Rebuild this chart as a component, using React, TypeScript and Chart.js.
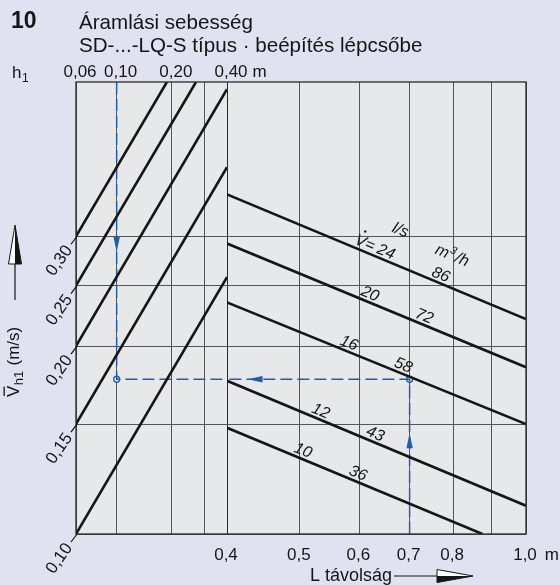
import React, { useEffect, useRef } from 'react';
import { Chart, registerables } from 'chart.js';

Chart.register(...registerables);

// ---- axis ticks / labels ----
const hGrid = [0.06, 0.1, 0.2, 0.3, 0.4];
const hLabelValues = [0.06, 0.1, 0.2, 0.4];
const hLabels = ['0,06', '0,10', '0,20', '0,40'];
const lGrid = [0.4, 0.5, 0.6, 0.7, 0.8, 0.9, 1.0];
const lLabelValues = [0.4, 0.5, 0.6, 0.7, 0.8, 1.0];
const lLabels = ['0,4', '0,5', '0,6', '0,7', '0,8', '1,0'];
const vGrid = [0.1, 0.15, 0.2, 0.25, 0.3];
const vLabels = ['0,10', '0,15', '0,20', '0,25', '0,30'];
const hMin = 0.06;
const hMax = 0.4;
const lMin = 0.4;
const lMax = 1.0;
const vMin = 0.1;
const vMax = 0.53;

// ---- left section: h1 lines ----
const leftStartH = 0.06;
const leftStartV = [0.3, 0.25, 0.2, 0.15, 0.1];
const leftEndH = [0.188, 0.271, 0.4, 0.4, 0.4];
const leftEndV = [0.53, 0.53, 0.516, 0.387, 0.258];

// ---- right section: flow lines ----
const flowLs = [24, 20, 16, 12, 10];
const flowM3h = [86, 72, 58, 43, 36];
const rightStartL = 0.4;
const rightStartV = [0.35, 0.292, 0.235, 0.176, 0.148];
const rightEndL = [1.0, 1.0, 1.0, 1.0, 0.875];
const rightEndV = [0.221, 0.185, 0.15, 0.111, 0.1];
const lsLabelL = [0.645, 0.614, 0.576, 0.528, 0.5];
const m3hLabelL = [0.763, 0.725, 0.68, 0.624, 0.592];

// ---- example reading (blue) ----
const readH = 0.1;
const readL = 0.7;
const readV = 0.177;
const arrowDownV = 0.283;
const arrowLeftL = 0.426;
const arrowUpV = 0.145;

const BLUE = '#1f5fb0';
const INK = '#151515';
const FONT = '"Liberation Sans", Arial, Helvetica, sans-serif';
const PAGE_BG = '#e0e2f2';
const PLOT_BG = '#e7e8ea';

function arrowHead(ctx: CanvasRenderingContext2D, x: number, y: number, ang: number, len: number, half: number) {
  ctx.save();
  ctx.translate(x, y);
  ctx.rotate(ang);
  ctx.beginPath();
  ctx.moveTo(0, 0);
  ctx.lineTo(-len, -half);
  ctx.lineTo(-len, half);
  ctx.closePath();
  ctx.fill();
  ctx.restore();
}

function halfArrow(ctx: CanvasRenderingContext2D, x: number, y: number, ang: number, len: number, half: number) {
  ctx.save();
  ctx.translate(x, y);
  ctx.rotate(ang);
  ctx.fillStyle = '#ffffff';
  ctx.beginPath();
  ctx.moveTo(0, 0);
  ctx.lineTo(-len, -half);
  ctx.lineTo(-len, half);
  ctx.closePath();
  ctx.fill();
  ctx.fillStyle = INK;
  ctx.beginPath();
  ctx.moveTo(0, 0);
  ctx.lineTo(-len, 0);
  ctx.lineTo(-len, half);
  ctx.closePath();
  ctx.fill();
  ctx.strokeStyle = INK;
  ctx.lineWidth = 1;
  ctx.beginPath();
  ctx.moveTo(0, 0);
  ctx.lineTo(-len, -half);
  ctx.lineTo(-len, half);
  ctx.closePath();
  ctx.stroke();
  ctx.restore();
}

const decorPlugin = {
  id: 'decor',
  beforeDraw(chart: any) {
    const { ctx, chartArea: a } = chart;
    ctx.save();
    ctx.fillStyle = PAGE_BG;
    ctx.fillRect(0, 0, chart.width, chart.height);
    ctx.fillStyle = PLOT_BG;
    ctx.fillRect(a.left, a.top, a.right - a.left, a.bottom - a.top);
    ctx.restore();
  },
  afterDraw(chart: any) {
    const { ctx, chartArea: a } = chart;
    const xL = chart.scales.xL;
    const xR = chart.scales.xR;
    const y = chart.scales.y;
    ctx.save();

    // frame
    ctx.strokeStyle = '#2a2a2a';
    ctx.lineWidth = 1.3;
    ctx.strokeRect(a.left, a.top, a.right - a.left, a.bottom - a.top);

    // blue arrows
    ctx.fillStyle = BLUE;
    arrowHead(ctx, xL.getPixelForValue(readH), y.getPixelForValue(arrowDownV), Math.PI / 2, 15, 3.2);
    arrowHead(ctx, xR.getPixelForValue(arrowLeftL), y.getPixelForValue(readV), Math.PI, 15, 3.2);
    arrowHead(ctx, xR.getPixelForValue(readL), y.getPixelForValue(arrowUpV), -Math.PI / 2, 15, 3.2);

    ctx.fillStyle = INK;
    ctx.strokeStyle = INK;

    // title
    ctx.textAlign = 'left';
    ctx.textBaseline = 'alphabetic';
    ctx.font = `bold 23px ${FONT}`;
    ctx.fillText('10', 11, 28);
    ctx.font = `20.6px ${FONT}`;
    ctx.fillText('Áramlási sebesség', 79, 29);
    ctx.fillText('SD-...-LQ-S típus · beépítés lépcsőbe', 79, 52);

    // h1
    ctx.font = `17px ${FONT}`;
    ctx.fillText('h', 12, 78);
    const whh = ctx.measureText('h').width;
    ctx.font = `12px ${FONT}`;
    ctx.fillText('1', 12 + whh + 0.5, 82);

    // top labels
    ctx.font = `17px ${FONT}`;
    ctx.textAlign = 'center';
    hLabelValues.forEach((v, i) => {
      const px = xL.getPixelForValue(v) + 4;
      ctx.fillText(hLabels[i], px, 77);
      if (i === hLabelValues.length - 1) {
        const w = ctx.measureText(hLabels[i]).width;
        ctx.textAlign = 'left';
        ctx.fillText('m', px + w / 2 + 5, 77);
        ctx.textAlign = 'center';
      }
    });

    // bottom labels
    lLabelValues.forEach((v, i) => {
      const px = xR.getPixelForValue(v) - 1;
      ctx.fillText(lLabels[i], px, 560);
      if (i === lLabelValues.length - 1) {
        const w = ctx.measureText(lLabels[i]).width;
        ctx.textAlign = 'left';
        ctx.fillText('m', px + w / 2 + 8, 560);
        ctx.textAlign = 'center';
      }
    });

    // x title + arrow
    ctx.font = `18px ${FONT}`;
    ctx.textAlign = 'left';
    ctx.fillText('L távolság', 310, 581);
    ctx.lineWidth = 1.2;
    ctx.beginPath();
    ctx.moveTo(394, 576);
    ctx.lineTo(440, 576);
    ctx.stroke();
    halfArrow(ctx, 473, 576, 0, 36, 6.5);

    // y labels (rotated)
    ctx.font = `17px ${FONT}`;
    vGrid.forEach((v, i) => {
      const yp = y.getPixelForValue(v);
      const ax = a.left;
      ctx.lineWidth = 1.2;
      ctx.beginPath();
      ctx.moveTo(ax + 1, yp);
      ctx.lineTo(ax - 5, yp + 8);
      ctx.stroke();
      ctx.save();
      ctx.translate(ax - 7, yp + 11);
      ctx.rotate((-55 * Math.PI) / 180);
      ctx.textAlign = 'right';
      ctx.textBaseline = 'middle';
      ctx.fillText(vLabels[i], 0, 0);
      ctx.restore();
    });

    // y title + arrow
    ctx.save();
    ctx.translate(19, 397);
    ctx.rotate(-Math.PI / 2);
    ctx.textAlign = 'left';
    ctx.textBaseline = 'alphabetic';
    ctx.font = `17px ${FONT}`;
    ctx.fillText('V', 0, 0);
    const wV = ctx.measureText('V').width;
    ctx.fillRect(1, -15.5, wV - 2, 1.3);
    ctx.font = `13px ${FONT}`;
    ctx.fillText('h1', wV + 0.5, 4);
    const wh1 = ctx.measureText('h1').width;
    ctx.font = `17px ${FONT}`;
    ctx.fillText(' (m/s)', wV + wh1 + 1, 0);
    ctx.restore();
    ctx.lineWidth = 1.2;
    ctx.beginPath();
    ctx.moveTo(15, 300);
    ctx.lineTo(15, 262);
    ctx.stroke();
    halfArrow(ctx, 15, 225, -Math.PI / 2, 39, 6.5);

    // flow labels
    ctx.font = `italic 16px ${FONT}`;
    flowLs.forEach((q, i) => {
      const x0 = xR.getPixelForValue(rightStartL);
      const y0 = y.getPixelForValue(rightStartV[i]);
      const x1 = xR.getPixelForValue(rightEndL[i]);
      const y1 = y.getPixelForValue(rightEndV[i]);
      const ang = Math.atan2(y1 - y0, x1 - x0);
      const at = (L: number) => {
        const px = xR.getPixelForValue(L);
        const t = (px - x0) / (x1 - x0);
        return [px, y0 + t * (y1 - y0)];
      };
      const [ax1, ay1] = at(lsLabelL[i]);
      ctx.save();
      ctx.translate(ax1, ay1);
      ctx.rotate(ang);
      ctx.textAlign = 'center';
      ctx.textBaseline = 'alphabetic';
      ctx.font = `italic 16px ${FONT}`;
      ctx.fillText(String(q), 0, -3.5);
      if (i === 0) {
        const wq = ctx.measureText(String(q)).width;
        ctx.textAlign = 'right';
        ctx.fillText('V=', -wq / 2 - 4, -3.5);
        const wEq = ctx.measureText('=').width;
        const wVv = ctx.measureText('V').width;
        ctx.beginPath();
        ctx.arc(-wq / 2 - 4 - wEq - wVv / 2 + 0.5, -19, 1.2, 0, Math.PI * 2);
        ctx.fill();
        ctx.textAlign = 'center';
        ctx.fillText('l/s', 5, -29);
      }
      ctx.restore();

      const [bx, by] = at(m3hLabelL[i]);
      ctx.save();
      ctx.translate(bx, by);
      ctx.rotate(ang);
      ctx.textAlign = 'center';
      ctx.textBaseline = 'alphabetic';
      ctx.font = `italic 16px ${FONT}`;
      ctx.fillText(String(flowM3h[i]), 0, -3.5);
      if (i === 0) {
        ctx.textAlign = 'left';
        const wm = ctx.measureText('m').width;
        const ws = ctx.measureText('/h').width;
        ctx.font = `italic 11px ${FONT}`;
        const w3 = ctx.measureText('3').width;
        const total = wm + w3 + ws + 2;
        const sx = 3 - total / 2;
        ctx.font = `italic 16px ${FONT}`;
        ctx.fillText('m', sx, -25.5);
        ctx.font = `italic 11px ${FONT}`;
        ctx.fillText('3', sx + wm + 0.5, -32);
        ctx.font = `italic 16px ${FONT}`;
        ctx.fillText('/h', sx + wm + w3 + 2, -25.5);
      }
      ctx.restore();
    });

    ctx.restore();
  },
};

function gridColor(ctx: any) {
  const v = ctx.tick && ctx.tick.value;
  if (v === 0.4) return '#2a2a2a';
  return '#555555';
}

export default function App() {
  const ref = useRef<HTMLCanvasElement | null>(null);
  useEffect(() => {
    const canvas = ref.current;
    if (!canvas) return;
    const datasets: any[] = [];
    leftStartV.forEach((v, i) => {
      datasets.push({
        xAxisID: 'xL',
        yAxisID: 'y',
        data: [
          { x: leftStartH, y: v },
          { x: leftEndH[i], y: leftEndV[i] },
        ],
        borderColor: INK,
        borderWidth: 2.6,
        showLine: true,
        pointRadius: 0,
      });
    });
    flowLs.forEach((q, i) => {
      datasets.push({
        xAxisID: 'xR',
        yAxisID: 'y',
        data: [
          { x: rightStartL, y: rightStartV[i] },
          { x: rightEndL[i], y: rightEndV[i] },
        ],
        borderColor: INK,
        borderWidth: 2.6,
        showLine: true,
        pointRadius: 0,
      });
    });
    datasets.push({
      xAxisID: 'xL',
      yAxisID: 'y',
      data: [
        { x: readH, y: vMax },
        { x: readH, y: readV },
        { x: hMax, y: readV },
      ],
      borderColor: BLUE,
      borderWidth: 1.5,
      borderDash: [12, 5],
      showLine: true,
      pointRadius: 0,
    });
    datasets.push({
      xAxisID: 'xR',
      yAxisID: 'y',
      data: [
        { x: readL, y: vMin },
        { x: readL, y: readV },
        { x: lMin, y: readV },
      ],
      borderColor: BLUE,
      borderWidth: 1.5,
      borderDash: [12, 5],
      showLine: true,
      pointRadius: 0,
    });
    datasets.push({
      xAxisID: 'xL',
      yAxisID: 'y',
      data: [{ x: readH, y: readV }],
      showLine: false,
      pointRadius: 3,
      pointBorderWidth: 1.3,
      pointBackgroundColor: PLOT_BG,
      pointBorderColor: BLUE,
    });
    datasets.push({
      xAxisID: 'xR',
      yAxisID: 'y',
      data: [{ x: readL, y: readV }],
      showLine: false,
      pointRadius: 3,
      pointBorderWidth: 1.3,
      pointBackgroundColor: PLOT_BG,
      pointBorderColor: BLUE,
    });

    const axisCommon = {
      type: 'logarithmic' as const,
      bounds: 'data' as const,
      ticks: { display: false },
      border: { display: false },
      grid: { drawTicks: false, color: gridColor, lineWidth: 1 },
    };

    const chart = new Chart(canvas, {
      type: 'scatter',
      data: { datasets },
      options: {
        responsive: false,
        animation: false,
        layout: { padding: { left: 76, top: 82, right: 34, bottom: 51 } },
        plugins: { legend: { display: false }, tooltip: { enabled: false } },
        scales: {
          xL: {
            ...axisCommon,
            position: 'bottom',
            stack: 'x',
            stackWeight: 151,
            min: hMin,
            max: hMax,
            afterBuildTicks: (ax: any) => {
              ax.ticks = hGrid.map((v) => ({ value: v }));
            },
          },
          xR: {
            ...axisCommon,
            position: 'bottom',
            stack: 'x',
            stackWeight: 299,
            min: lMin,
            max: lMax,
            afterBuildTicks: (ax: any) => {
              ax.ticks = lGrid.map((v) => ({ value: v }));
            },
          },
          y: {
            ...axisCommon,
            position: 'left',
            min: vMin,
            max: vMax,
            afterBuildTicks: (ax: any) => {
              ax.ticks = vGrid.map((v) => ({ value: v }));
            },
          },
        } as any,
      },
      plugins: [decorPlugin],
    });
    return () => chart.destroy();
  }, []);

  return (
    <canvas
      ref={ref}
      width={560}
      height={585}
      style={{ position: 'absolute', left: 0, top: 0, width: 560, height: 585 }}
    />
  );
}
